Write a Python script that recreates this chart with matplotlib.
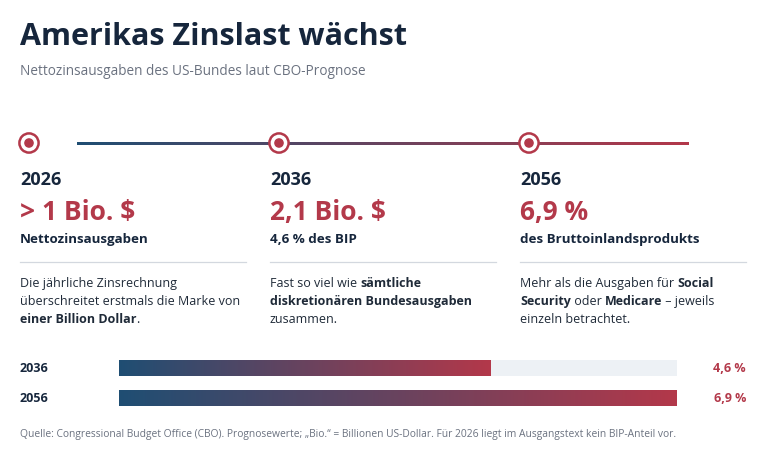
import numpy as np
import matplotlib.pyplot as plt
from matplotlib.colors import LinearSegmentedColormap
from matplotlib.patches import Circle
from matplotlib.transforms import blended_transform_factory

plt.rcParams['font.family'] = ['Open Sans', 'DejaVu Sans']

W, H = 759, 451

# data
years = ['2026', '2036', '2056']
headline_values = ['> 1 Bio. $', '2,1 Bio. $', '6,9 %']
headline_labels = ['Nettozinsausgaben', '4,6 % des BIP', 'des Bruttoinlandsprodukts']
notes = [
    [[('Die jährliche Zinsrechnung', False)],
     [('überschreitet erstmals die Marke von', False)],
     [('einer Billion Dollar', True), ('.', False)]],
    [[('Fast so viel wie ', False), ('sämtliche', True)],
     [('diskretionären Bundesausgaben', True)],
     [('zusammen.', False)]],
    [[('Mehr als die Ausgaben für ', False), ('Social', True)],
     [('Security', True), (' oder ', False), ('Medicare', True), (' – jeweils', False)],
     [('einzeln betrachtet.', False)]],
]
bar_years = ['2036', '2056']
bip_share = [4.6, 6.9]
bar_labels = ['4,6 %', '6,9 %']

title = 'Amerikas Zinslast wächst'
subtitle = 'Nettozinsausgaben des US-Bundes laut CBO-Prognose'
source = ('Quelle: Congressional Budget Office (CBO). Prognosewerte; „Bio.“ = Billionen '
          'US-Dollar. Für 2026 liegt im Ausgangstext kein BIP-Anteil vor.')

NAVY = '#16263c'
RED = '#b3394a'
GREY = '#6b7280'
cmap = LinearSegmentedColormap.from_list('zins', ['#1f4e73', '#b3384a'])

fig = plt.figure(figsize=(W / 100, H / 100), dpi=100)
ax = fig.add_axes([0, 0, 1, 1])
ax.set_xlim(0, W)
ax.set_ylim(H, 0)
ax.axis('off')
renderer = fig.canvas.get_renderer()


def text_width(s, size, weight):
    # measure between bars so leading/trailing spaces count
    t1 = ax.text(0, 0, '|' + s + '|', fontsize=size, fontweight=weight)
    t2 = ax.text(0, 0, '||', fontsize=size, fontweight=weight)
    w = t1.get_window_extent(renderer).width - t2.get_window_extent(renderer).width
    t1.remove()
    t2.remove()
    return w


def rich_line(x, y, runs, size, color):
    for txt, bold in runs:
        weight = 'bold' if bold else 'normal'
        ax.text(x, y, txt, fontsize=size, fontweight=weight, color=color, va='baseline')
        x += text_width(txt, size, weight)


grad = np.linspace(0, 1, 256).reshape(1, -1)

# header
ax.text(20, 45, title, fontsize=22, fontweight='bold', color=NAVY, va='baseline')
ax.text(20, 75, subtitle, fontsize=9.8, color=GREY, va='baseline')

# timeline with gradient line
ax.imshow(grad, extent=[77, 689, 144.6, 141.6], cmap=cmap, aspect='auto',
          interpolation='bilinear', zorder=1)

col_x = [20, 270, 520]
for i, x0 in enumerate(col_x):
    cx = x0 + 9
    ax.add_patch(Circle((cx, 143), 9.6, facecolor='white', edgecolor=RED, lw=1.8, zorder=3))
    ax.add_patch(Circle((cx, 143), 4.8, facecolor=RED, edgecolor='none', zorder=4))
    ax.text(x0, 185, years[i], fontsize=13, fontweight='bold', color=NAVY, va='baseline')
    ax.text(x0, 220, headline_values[i], fontsize=19, fontweight='bold', color=RED,
            va='baseline')
    ax.text(x0, 243, headline_labels[i], fontsize=9.6, fontweight='bold', color=NAVY,
            va='baseline')
    ax.plot([x0, x0 + 226], [261.5, 261.5], color='#d3d8df', lw=0.9)
    for j, runs in enumerate(notes[i]):
        rich_line(x0, 287 + 18 * j, runs, 9, '#1f2a38')

ax.set_xlim(0, W)
ax.set_ylim(H, 0)

# bars: share of GDP
ax2 = fig.add_axes([119 / W, (H - 413) / H, 558 / W, 60 / H])
xmax = max(bip_share)
bh = 16 / 30
ypos = np.arange(len(bip_share))
ax2.barh(ypos, [xmax] * len(bip_share), height=bh, color='#edf1f5', zorder=1)
for i, v in enumerate(bip_share):
    ax2.imshow(grad, extent=[0, v, i + bh / 2, i - bh / 2], cmap=cmap, aspect='auto',
               interpolation='bilinear', zorder=2)
ax2.set_xlim(0, xmax)
ax2.set_ylim(1.5, -0.5)
ax2.axis('off')

tr = blended_transform_factory(ax.transData, ax2.transData)
for i, (yr, lab) in enumerate(zip(bar_years, bar_labels)):
    ax.text(20, i, yr, transform=tr, fontsize=9, fontweight='bold', color=NAVY,
            va='center')
    ax.text(746, i, lab, transform=tr, fontsize=9, fontweight='bold', color=RED,
            va='center', ha='right')

ax.text(20, 437, source, fontsize=7.4, color=GREY, va='baseline')

fig.savefig('out.png', dpi=100)
